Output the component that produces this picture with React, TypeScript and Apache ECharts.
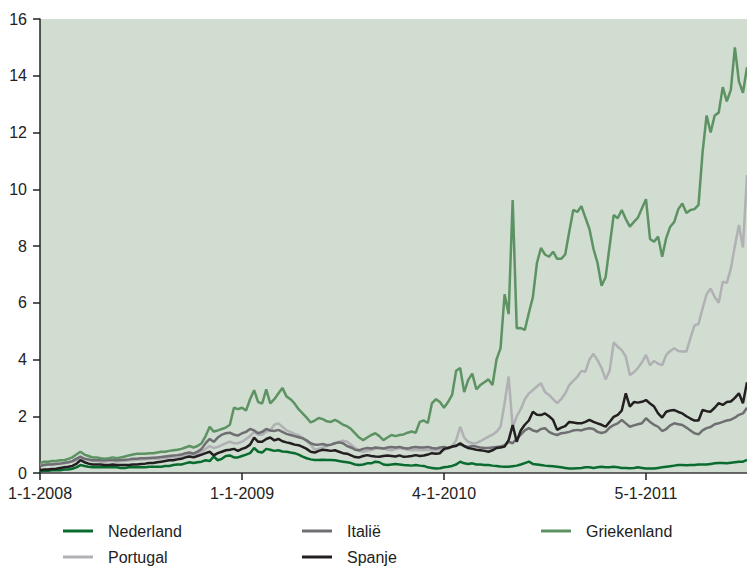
import React, { useEffect, useRef } from "react";
import * as echarts from "echarts";

// Tick labels on the x axis and the sample index at which each one sits
const tickLabels = ["1-1-2008", "1-1-2009", "4-1-2010", "5-1-2011"];
const tickIndex = [0, 50, 100, 150];

const nederland = [
  0.05, 0.08, 0.08, 0.1, 0.1, 0.1, 0.12, 0.12, 0.15, 0.2,
  0.28, 0.25, 0.22, 0.2, 0.2, 0.2, 0.2, 0.2, 0.2, 0.2,
  0.18, 0.18, 0.2, 0.2, 0.2, 0.2, 0.2, 0.22, 0.22, 0.22,
  0.22, 0.25, 0.25, 0.28, 0.3, 0.3, 0.34, 0.38, 0.35, 0.38,
  0.4, 0.45, 0.42, 0.58, 0.45, 0.5, 0.6, 0.62, 0.55, 0.55,
  0.6, 0.65, 0.7, 0.88, 0.75, 0.72, 0.85, 0.82, 0.78, 0.8,
  0.76, 0.75, 0.72, 0.7, 0.65, 0.58, 0.52, 0.48, 0.46, 0.46,
  0.47, 0.46, 0.46, 0.45, 0.42, 0.4, 0.38, 0.35, 0.3, 0.28,
  0.3, 0.34, 0.34, 0.4, 0.38, 0.3, 0.28, 0.3, 0.32, 0.3,
  0.28, 0.27, 0.26, 0.28, 0.26, 0.25, 0.2, 0.18, 0.16, 0.17,
  0.2, 0.22, 0.25, 0.3, 0.4, 0.34, 0.32, 0.34, 0.3, 0.3,
  0.28, 0.28, 0.26, 0.25, 0.23, 0.22, 0.22, 0.24, 0.26, 0.3,
  0.35, 0.4, 0.32, 0.3, 0.28, 0.26, 0.25, 0.24, 0.22, 0.2,
  0.18, 0.16, 0.16, 0.17, 0.18, 0.2, 0.2, 0.18, 0.2, 0.22,
  0.2, 0.2, 0.22, 0.2, 0.18, 0.18, 0.17, 0.18, 0.2, 0.18,
  0.16, 0.16, 0.16, 0.18, 0.2, 0.22, 0.24, 0.26, 0.28, 0.28,
  0.27, 0.28, 0.28, 0.3, 0.3, 0.3, 0.32, 0.34, 0.35, 0.35,
  0.34, 0.36, 0.38, 0.4, 0.4, 0.46,
];

const portugal = [
  0.28, 0.3, 0.32, 0.33, 0.33, 0.35, 0.35, 0.38, 0.4, 0.45,
  0.55, 0.5, 0.45, 0.42, 0.42, 0.4, 0.4, 0.42, 0.42, 0.4,
  0.42, 0.42, 0.45, 0.45, 0.47, 0.48, 0.48, 0.5, 0.5, 0.5,
  0.52, 0.52, 0.55, 0.55, 0.55, 0.58, 0.62, 0.65, 0.62, 0.68,
  0.75, 0.85, 0.95, 0.88, 0.92, 0.98, 1.05, 1.1, 1.05, 1.05,
  1.1, 1.2, 1.3, 1.45, 1.35, 1.35, 1.46, 1.5, 1.7, 1.75,
  1.63, 1.5, 1.45, 1.38, 1.33, 1.25, 1.12, 1.0, 0.82, 0.86,
  0.9, 0.95, 0.99, 1.05, 1.1, 1.14, 1.1, 1.0, 0.88, 0.78,
  0.75, 0.78, 0.81, 0.85, 0.88, 0.86, 0.82, 0.8, 0.84, 0.88,
  0.85, 0.82, 0.8, 0.81, 0.82, 0.8, 0.82, 0.8, 0.8, 0.82,
  0.8, 0.88, 0.95, 1.15, 1.63, 1.25, 1.1, 1.05, 1.05, 1.12,
  1.2, 1.28, 1.35, 1.45, 1.63, 2.46, 3.4, 1.6, 2.0, 2.25,
  2.6, 2.8, 2.92, 3.05, 3.16, 2.85, 2.75, 2.6, 2.46, 2.6,
  2.8, 3.1, 3.25, 3.39, 3.6, 3.57, 4.0, 4.2, 3.98, 3.7,
  3.3, 3.6, 4.6, 4.45, 4.33, 4.1, 3.45, 3.55, 3.7, 3.9,
  4.16, 3.8, 3.95, 3.85, 3.8, 4.16, 4.3, 4.4, 4.3, 4.28,
  4.28, 4.75, 5.2, 5.25, 5.8, 6.3, 6.5, 6.2, 6.0, 6.74,
  6.7, 7.2, 8.0, 8.74, 7.95, 10.5,
];

const italie = [
  0.25, 0.28, 0.3, 0.3, 0.32, 0.33, 0.35, 0.38, 0.42, 0.5,
  0.58, 0.5, 0.48, 0.45, 0.45, 0.45, 0.45, 0.46, 0.46, 0.45,
  0.46, 0.47, 0.48, 0.5, 0.5, 0.52, 0.52, 0.53, 0.54, 0.55,
  0.56, 0.58, 0.6, 0.62, 0.63, 0.65, 0.7, 0.72, 0.68, 0.75,
  0.85, 1.05, 1.2, 1.1, 1.25, 1.35, 1.4, 1.42, 1.35, 1.32,
  1.4, 1.45, 1.55, 1.5, 1.4, 1.45, 1.55, 1.5, 1.48, 1.52,
  1.45, 1.38, 1.34, 1.3, 1.26, 1.22, 1.15, 1.05, 1.0, 1.0,
  1.02, 0.98, 1.0, 1.05, 1.08, 1.05, 0.95, 0.9, 0.82, 0.8,
  0.85, 0.88, 0.86, 0.9, 0.88, 0.86, 0.9, 0.92, 0.9, 0.92,
  0.88, 0.86, 0.9, 0.92, 0.9, 0.9, 0.92, 0.88, 0.86, 0.9,
  0.92, 0.88, 0.92, 0.98, 1.0, 0.95, 0.92, 0.95, 0.93, 0.9,
  0.88, 0.88, 0.9, 0.92, 0.93, 0.98, 1.1, 1.05, 1.2, 1.35,
  1.5, 1.58, 1.5, 1.46, 1.55, 1.58, 1.45, 1.38, 1.34, 1.4,
  1.42, 1.45, 1.5, 1.52, 1.5, 1.55, 1.58, 1.55, 1.45, 1.41,
  1.45, 1.6, 1.69, 1.75, 1.87, 1.75, 1.63, 1.68, 1.72, 1.75,
  1.93, 1.8, 1.7, 1.63, 1.48, 1.55, 1.68, 1.75, 1.72, 1.69,
  1.6, 1.5, 1.4, 1.36, 1.5, 1.58, 1.62, 1.72, 1.75, 1.8,
  1.85, 1.88, 1.95, 2.05, 2.1, 2.3,
];

const spanje = [
  0.1, 0.12, 0.12, 0.14, 0.15, 0.18, 0.2, 0.22, 0.25, 0.32,
  0.45, 0.38, 0.33, 0.3, 0.3, 0.3, 0.28, 0.28, 0.3, 0.28,
  0.28, 0.28, 0.28, 0.3, 0.3, 0.32, 0.33, 0.35, 0.35, 0.38,
  0.4, 0.42, 0.45, 0.45, 0.48, 0.5, 0.55, 0.58, 0.55, 0.6,
  0.65, 0.7, 0.75, 0.62, 0.7, 0.75, 0.8, 0.82, 0.85, 0.78,
  0.85, 0.9, 1.0, 1.25, 1.1, 1.1, 1.2, 1.25, 1.15, 1.2,
  1.12, 1.08, 1.05, 1.0, 0.98, 0.92, 0.85, 0.75, 0.72, 0.78,
  0.82, 0.8, 0.78, 0.8, 0.75, 0.7, 0.68, 0.62, 0.56, 0.55,
  0.6, 0.63, 0.6, 0.58, 0.57, 0.6, 0.62, 0.6, 0.58, 0.62,
  0.57, 0.58, 0.6, 0.63, 0.6, 0.62, 0.65, 0.7, 0.68, 0.7,
  0.85, 0.88, 0.93, 0.95, 1.05, 0.95, 0.88, 0.85, 0.82, 0.8,
  0.78, 0.75, 0.8, 0.88, 0.9, 0.93, 1.16, 1.69, 1.1, 1.5,
  1.7, 1.85, 2.16, 2.05, 2.04, 2.1, 2.0, 1.87, 1.52, 1.6,
  1.65, 1.8, 1.78, 1.75, 1.75, 1.8, 1.87, 1.8, 1.75, 1.7,
  1.63, 1.8, 1.98, 2.05, 2.2, 2.81, 2.34, 2.5, 2.48, 2.51,
  2.57, 2.45, 2.34, 2.1, 1.95, 2.16, 2.2, 2.22, 2.15, 2.1,
  2.0, 1.92, 1.85, 1.85, 2.22, 2.18, 2.16, 2.3, 2.46, 2.4,
  2.5, 2.52, 2.65, 2.81, 2.46, 3.2,
];

const griekenland = [
  0.35, 0.4, 0.4, 0.42, 0.42, 0.45, 0.45, 0.5, 0.55, 0.65,
  0.75, 0.65, 0.6, 0.55, 0.55, 0.52, 0.5, 0.52, 0.55, 0.52,
  0.55, 0.58, 0.62, 0.65, 0.68, 0.68, 0.68, 0.7, 0.7, 0.72,
  0.75, 0.75, 0.78, 0.8, 0.82, 0.85, 0.9, 0.95, 0.9, 0.95,
  1.05, 1.3, 1.63, 1.46, 1.5, 1.55, 1.6, 1.7, 2.3, 2.25,
  2.3, 2.2, 2.6, 2.92, 2.5, 2.45, 2.95, 2.45, 2.6, 2.8,
  3.0, 2.7, 2.6, 2.45, 2.25, 2.1, 1.95, 1.78, 1.85, 1.94,
  1.9, 1.82, 1.8, 1.87, 1.8, 1.7, 1.65, 1.55, 1.4, 1.25,
  1.16, 1.25, 1.34, 1.4, 1.3, 1.16, 1.25, 1.34, 1.3, 1.34,
  1.36, 1.42, 1.46, 1.42, 1.8, 1.85, 1.76, 2.45, 2.6, 2.5,
  2.3, 2.5, 2.75, 3.6, 3.7, 2.85, 3.28, 3.5, 2.95, 3.1,
  3.2, 3.3, 3.1, 4.0, 4.4, 6.3, 5.6, 9.62, 5.1, 5.11,
  5.04, 5.64, 6.2, 7.4, 7.93, 7.7, 7.62, 7.8, 7.55, 7.55,
  7.7, 8.5, 9.27, 9.2, 9.4, 9.0, 8.6, 7.9, 7.4, 6.6,
  6.9, 8.0, 9.09, 8.98, 9.27, 8.95, 8.68, 8.85, 9.0, 9.33,
  9.65, 8.25, 8.15, 8.33, 7.62, 8.28, 8.68, 8.85, 9.3, 9.5,
  9.16, 9.27, 9.3, 9.45, 11.3, 12.6, 12.0, 12.6, 12.7, 13.6,
  13.1, 13.5, 15.0, 13.8, 13.4, 14.3,
];

const seriesNames = ["Nederland", "Portugal", "Italië", "Spanje", "Griekenland"];
const seriesData = [nederland, portugal, italie, spanje, griekenland];
const seriesColors = ["#0a6b2f", "#b1b0b5", "#6f6e72", "#231f20", "#5d9263"];

// legend layout: [name, left, top]
const legendPlaces: [string, number, number][] = [
  ["Nederland", 63, 521],
  ["Italië", 302, 521],
  ["Griekenland", 541, 521],
  ["Portugal", 63, 547],
  ["Spanje", 302, 547],
];

const FONT = "'Liberation Sans', Arial, Helvetica, sans-serif";

export default function App() {
  const ref = useRef<HTMLDivElement>(null);
  useEffect(() => {
    if (!ref.current) return;
    const chart = echarts.init(ref.current, undefined, { renderer: "svg" });
    const categories = nederland.map((_, i) => String(i));
    const labelMap: Record<number, string> = {};
    tickIndex.forEach((ti, k) => (labelMap[ti] = tickLabels[k]));
    chart.setOption({
      animation: false,
      backgroundColor: "#ffffff",
      textStyle: { fontFamily: FONT },
      grid: {
        left: 40,
        right: 0,
        top: 19,
        bottom: 93,
        show: true,
        backgroundColor: "#d0ddd0",
        borderWidth: 0,
      },
      xAxis: {
        type: "category",
        data: categories,
        boundaryGap: false,
        axisLine: { lineStyle: { color: "#3a3a3a", width: 1.5 } },
        axisTick: {
          show: true,
          interval: (idx: number) => labelMap[idx] !== undefined,
          length: 7,
          lineStyle: { color: "#222", width: 1.5 },
        },
        axisLabel: {
          interval: (idx: number) => labelMap[idx] !== undefined,
          formatter: (_v: string, idx: number) => labelMap[idx] ?? "",
          color: "#222",
          fontSize: 16,
          fontFamily: FONT,
          margin: 12,
        },
        splitLine: { show: false },
      },
      yAxis: {
        type: "value",
        min: 0,
        max: 16,
        interval: 2,
        axisLine: { show: true, lineStyle: { color: "#222", width: 1.5 } },
        axisTick: { show: true, length: 7, lineStyle: { color: "#222", width: 1.5 } },
        axisLabel: { color: "#222", fontSize: 16, fontFamily: FONT, margin: 13 },
        splitLine: { show: false },
      },
      legend: legendPlaces.map(([name, left, top]) => ({
        data: [name],
        left,
        top,
        icon: "rect",
        itemWidth: 30,
        itemHeight: 3,
        padding: 0,
        textStyle: {
          color: "#222",
          fontSize: 16,
          fontFamily: FONT,
          lineHeight: 20,
          padding: [0, 0, 0, 10],
        },
      })),
      series: seriesNames.map((name, k) => ({
        name,
        type: "line",
        data: seriesData[k],
        symbol: "none",
        smooth: false,
        lineStyle: { color: seriesColors[k], width: 2.5 },
        itemStyle: { color: seriesColors[k] },
      })),
    });
    return () => chart.dispose();
  }, []);
  return (
    <div
      ref={ref}
      style={{ position: "fixed", left: 0, top: 0, width: 747, height: 566 }}
    />
  );
}
